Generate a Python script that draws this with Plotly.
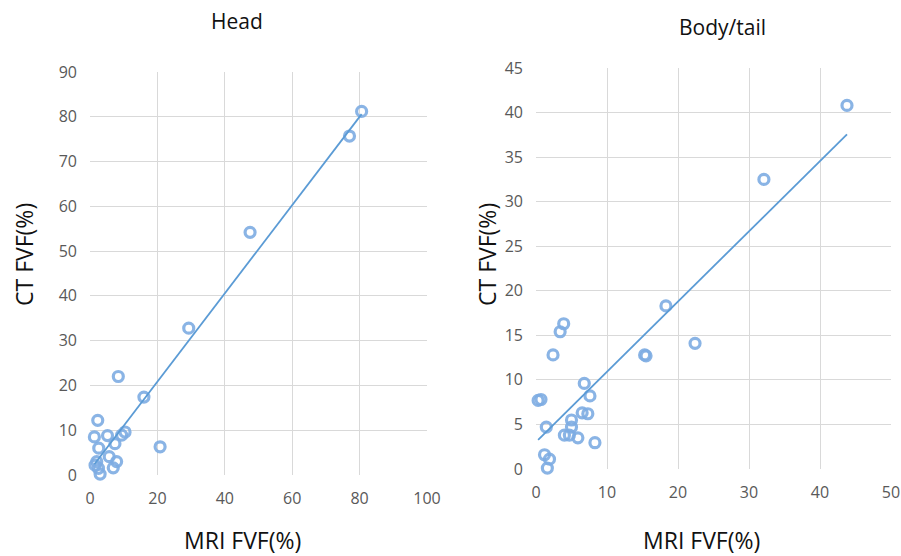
import numpy as np
import plotly.graph_objects as go

# Head data (MRI FVF %, CT FVF %)
head_mri = [80.6, 77.0, 47.5, 29.3, 8.4, 16.0, 20.8, 2.3, 1.3, 5.2, 9.4, 10.4, 7.4, 2.6, 5.7, 7.9, 6.9, 2.0, 2.5, 3.0, 1.5]
head_ct = [81.2, 75.7, 54.2, 32.8, 22.0, 17.4, 6.3, 12.2, 8.5, 8.8, 8.9, 9.6, 7.0, 6.0, 4.1, 3.0, 1.6, 3.0, 1.5, 0.2, 2.2]

# Body/tail data
body_mri = [43.8, 32.1, 18.3, 22.4, 15.3, 15.5, 3.9, 3.4, 2.4, 0.3, 0.7, 1.45, 6.8, 7.6, 6.5, 7.3, 5.0, 5.0, 4.0, 4.7, 5.9, 8.3, 1.2, 1.9, 1.6]
body_ct = [40.8, 32.5, 18.3, 14.1, 12.8, 12.7, 16.3, 15.4, 12.8, 7.7, 7.8, 4.7, 9.6, 8.2, 6.3, 6.2, 5.5, 4.7, 3.8, 3.8, 3.5, 2.95, 1.6, 1.1, 0.1]

titles = ["Head", "Body/tail"]
x_title = "MRI FVF(%)"
y_title = "CT FVF(%)"

FONT = "Open Sans"
MARK = "rgba(125,172,226,0.9)"
LINE = "#5b9bd5"
TICK = "#595959"

fig = go.Figure()

def add_panel(xs, ys, xa, ya):
    xs = np.array(xs); ys = np.array(ys)
    fig.add_trace(go.Scatter(x=xs, y=ys, mode="markers", xaxis=xa, yaxis=ya,
                             cliponaxis=False,
                             marker=dict(symbol="circle-open", size=10, color=MARK,
                                         line=dict(width=3.2, color=MARK)),
                             showlegend=False))
    m, b = np.polyfit(xs, ys, 1)
    lx = np.array([xs.min(), xs.max()])
    fig.add_trace(go.Scatter(x=lx, y=m * lx + b, mode="lines", xaxis=xa, yaxis=ya,
                             line=dict(color=LINE, width=1.8), showlegend=False))

add_panel(head_mri, head_ct, "x", "y")
add_panel(body_mri, body_ct, "x2", "y2")

W, H = 901, 556
axcommon = dict(showgrid=True, gridcolor="#d9d9d9", gridwidth=1, zeroline=False,
                showline=False, ticks="", automargin=False,
                tickfont=dict(family=FONT, size=16, color=TICK))

fig.update_layout(
    width=W, height=H, margin=dict(l=0, r=0, t=0, b=0, autoexpand=False),
    paper_bgcolor="white", plot_bgcolor="white",
    xaxis=dict(domain=[90 / W, 427 / W], range=[0, 100], dtick=20, anchor="y",
               ticklabelstandoff=12, **axcommon),
    yaxis=dict(domain=[81 / H, 484 / H], range=[0, 90], dtick=10, anchor="x",
               ticklabelstandoff=12, **axcommon),
    xaxis2=dict(domain=[536 / W, 891 / W], range=[0, 50], dtick=10, anchor="y2",
                ticklabelstandoff=12, **axcommon),
    yaxis2=dict(domain=[87 / H, 488 / H], range=[0, 45], dtick=5, anchor="x2",
                ticklabelstandoff=12, **axcommon),
)

def ann(text, x, y, size, angle=0):
    fig.add_annotation(text=text, xref="paper", yref="paper", x=x / W, y=1 - y / H,
                       xanchor="center", yanchor="middle", showarrow=False, textangle=angle,
                       font=dict(family=FONT, size=size, color="#111111"))

ann(titles[0], 237, 21, 21)
ann(titles[1], 722, 27, 21)
ann(x_title, 242, 540, 23)
ann(x_title, 701, 540, 23)
ann(y_title, 24, 255, 23, -90)
ann(y_title, 487, 255, 23, -90)

fig.write_html("out.html")
